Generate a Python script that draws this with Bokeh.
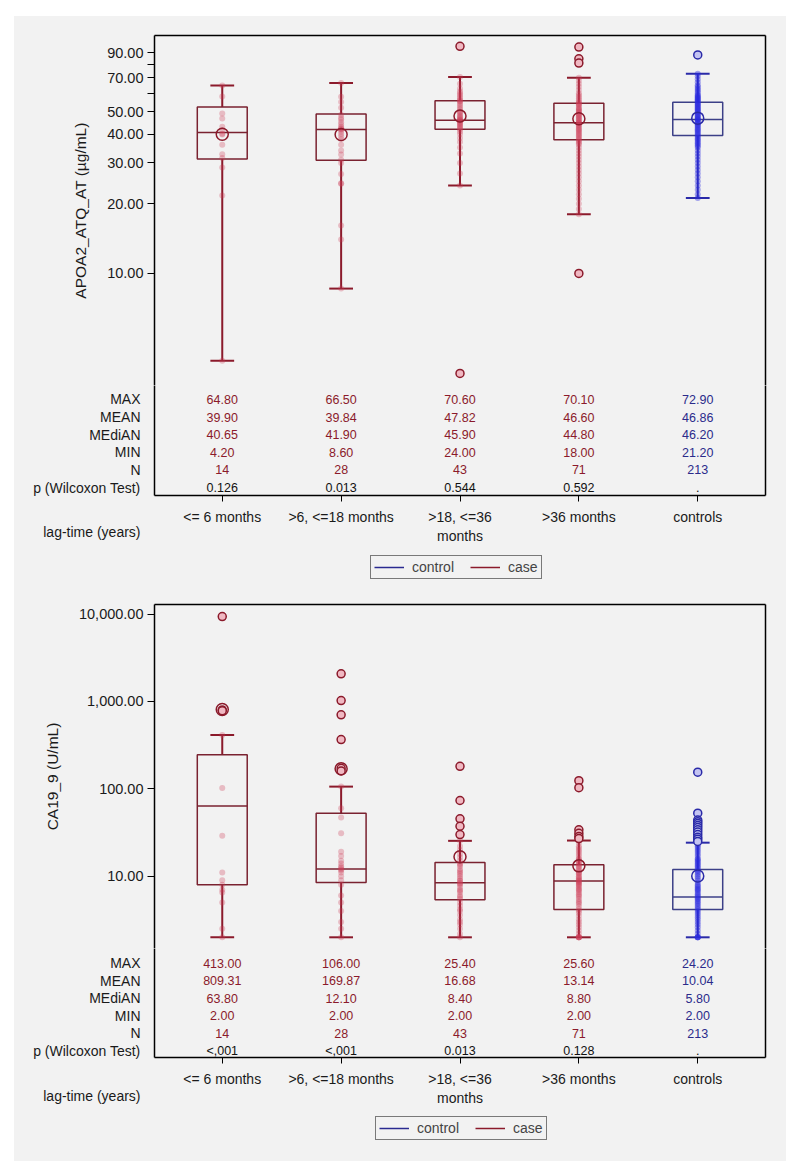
from bokeh.plotting import figure
from bokeh.models import (Range1d, FixedTicker, Legend, LegendItem, LinearAxis,
                          ColumnDataSource, Title)
from bokeh.core.properties import value
from bokeh.layouts import column
from bokeh.embed import file_html
from bokeh.resources import INLINE

# ---------------- data ----------------
categories = ["<= 6 months", ">6, <=18 months", ">18, <=36\nmonths", ">36 months", "controls"]
group_type = ["case", "case", "case", "case", "control"]
stat_names = ["MAX", "MEAN", "MEdiAN", "MIN", "N", "p (Wilcoxon Test)"]
x_title = "lag-time (years)"
legend_labels = ["control", "case"]

# Panel 1: APOA2_ATQ_AT
apoa2_q1 = [31.2, 30.8, 42.0, 37.8, 39.4]
apoa2_median = [40.65, 41.90, 45.90, 44.80, 46.20]
apoa2_q3 = [52.3, 48.8, 55.7, 54.3, 54.9]
apoa2_low = [4.20, 8.60, 24.00, 18.00, 21.20]
apoa2_high = [64.80, 66.50, 70.60, 70.10, 72.90]
apoa2_mean = [39.90, 39.84, 47.82, 46.60, 46.86]
apoa2_outliers = [[], [], [95.7, 3.7], [95.0, 84.5, 81.0, 10.0], [87.9]]
apoa2_points = [
    [64.8, 58.1, 49.1, 46.7, 43.0, 41.5, 40.1, 39.8, 36.0, 32.7, 31.5, 28.7, 21.7, 4.2],
    [66.5, 58.0, 55.0, 52.0, 48.5, 47.0, 46.2, 45.0, 44.0, 43.0, 42.5, 42.0, 41.8, 41.0,
     40.0, 39.0, 38.0, 36.0, 34.0, 32.6, 31.0, 30.0, 26.9, 24.5, 24.4, 16.1, 14.0, 8.6],
    [70.6, 66, 63, 61, 60, 59, 58, 57, 56, 55.5, 55, 54, 53, 52, 51, 50, 49.5, 49, 48,
     47.5, 47, 46.5, 46, 45.9, 45.5, 45, 44.5, 44, 43.5, 43, 42.5, 42, 41, 40, 38.5, 37,
     35, 33, 30, 27, 24],
    [70.1, 68, 66, 64, 62, 60, 59, 58, 57, 56, 55, 54.5, 54, 53.5, 53, 52, 51.5, 51, 50.5,
     50, 49.5, 49, 48.5, 48, 47.5, 47, 46.5, 46, 45.5, 45, 44.8, 44.5, 44, 43.5, 43, 42.5,
     42, 41.5, 41, 40.5, 40, 39.5, 39, 38.5, 38, 37.5, 37, 36.5, 36, 35, 34, 33, 32, 31,
     30, 29, 28, 27, 26, 25, 24, 23, 22, 21, 20, 19, 18],
    [72.9, 71, 69, 67, 65, 64, 63, 62, 61, 60, 59, 58.5, 58, 57.5, 57, 56.5, 56, 55.5, 55,
     54.5, 54, 53.5, 53, 52.5, 52, 51.5, 51, 50.5, 50, 49.5, 49, 48.5, 48, 47.5, 47, 46.5,
     46.2, 46, 45.5, 45, 44.5, 44, 43.5, 43, 42.5, 42, 41.5, 41, 40.5, 40, 39.5, 39, 38.5,
     38, 37.5, 37, 36.5, 36, 35.5, 35, 34, 33, 32, 31, 30, 29, 28, 27, 26, 25, 24, 23, 22,
     21.2],
]
apoa2_table = [
    ["64.80", "66.50", "70.60", "70.10", "72.90"],
    ["39.90", "39.84", "47.82", "46.60", "46.86"],
    ["40.65", "41.90", "45.90", "44.80", "46.20"],
    ["4.20", "8.60", "24.00", "18.00", "21.20"],
    ["14", "28", "43", "71", "213"],
    ["0.126", "0.013", "0.544", "0.592", "."],
]
apoa2_ticks = [10, 20, 30, 40, 50, 60, 70, 80, 90]
apoa2_tick_labels = ["10.00", "20.00", "30.00", "40.00", "50.00", "", "70.00", "", "90.00"]
apoa2_title = "APOA2_ATQ_AT (\u00b5g/mL)"

# Panel 2: CA19_9
ca199_q1 = [8.0, 8.5, 5.37, 4.16, 4.16]
ca199_median = [63.80, 12.10, 8.40, 8.80, 5.80]
ca199_q3 = [245.0, 52.6, 14.4, 13.5, 11.9]
ca199_low = [2.00, 2.00, 2.00, 2.00, 2.00]
ca199_high = [413.00, 106.00, 25.40, 25.60, 24.20]
ca199_mean = [809.31, 169.87, 16.68, 13.14, 10.04]
ca199_outliers = [
    [9350, 800, 780],
    [2070, 1023, 703, 366, 172, 160],
    [181, 73.5, 45.4, 37.3, 30],
    [124, 103, 34, 31, 28.5, 27],
    [155, 52.6, 44, 42, 40, 38, 36, 34, 32, 30, 28, 26.5, 25],
]
ca199_points = [
    [413, 102, 29, 11, 9, 8, 7, 6.5, 5, 2.5, 2.0],
    [106, 60, 47, 31, 19, 17, 15, 14, 13, 12.5, 12, 11.7, 11, 10, 9, 8, 6, 5, 4, 3, 2.5, 2],
    [25.4, 22, 20, 18, 16.5, 15, 14, 13.5, 13, 12, 11.5, 11, 10.5, 10, 9.5, 9, 8.8, 8.4,
     8.2, 8, 7.5, 7, 6.8, 6.5, 6, 5.8, 5.5, 5, 4.6, 4.2, 4, 3.6, 3.2, 3, 2.8, 2.5, 2.2, 2],
    [25.6, 24, 22, 21, 20, 19, 18, 17, 16, 15.5, 15, 14.5, 14, 13.5, 13, 12.5, 12, 11.5,
     11, 10.8, 10.5, 10, 9.8, 9.5, 9.2, 9, 8.8, 8.6, 8.4, 8.2, 8, 7.8, 7.5, 7.2, 7, 6.8,
     6.5, 6.2, 6, 5.8, 5.5, 5.2, 5, 4.8, 4.5, 4.2, 4, 3.8, 3.5, 3.2, 3, 2.8, 2.6, 2.4,
     2.2, 2, 2, 2, 2, 2],
    [24.2, 23, 22, 21, 20, 19, 18, 17, 16, 15.5, 15, 14.5, 14, 13.5, 13, 12.5, 12, 11.5,
     11, 10.5, 10, 9.5, 9, 8.5, 8, 7.8, 7.5, 7.2, 7, 6.8, 6.5, 6.2, 6, 5.8, 5.6, 5.4, 5.2,
     5, 4.8, 4.6, 4.4, 4.2, 4, 3.8, 3.6, 3.4, 3.2, 3, 2.8, 2.6, 2.4, 2.2, 2, 2, 2, 2],
]
ca199_table = [
    ["413.00", "106.00", "25.40", "25.60", "24.20"],
    ["809.31", "169.87", "16.68", "13.14", "10.04"],
    ["63.80", "12.10", "8.40", "8.80", "5.80"],
    ["2.00", "2.00", "2.00", "2.00", "2.00"],
    ["14", "28", "43", "71", "213"],
    ["<,001", "<,001", "0.013", "0.128", "."],
]
ca199_ticks = [10, 100, 1000, 10000]
ca199_tick_labels = ["10.00", "100.00", "1,000.00", "10,000.00"]
ca199_title = "CA19_9 (U/mL)"

# ---------------- styles ----------------
BG = "#f2f2f2"
FONT = "Liberation Sans"
INK = "#1a1a1a"
LINE = {"case": "#8b1a2b", "control": "#2a2aa8"}
BOX = {"case": "#7a2230", "control": "#3c4088"}
PT = {"case": "#cc3a55", "control": "#2a2ae0"}
OUT_FILL = {"case": "#f0b8c2", "control": "#c4c4f2"}
TXT = {"case": "#8b1a2b", "control": "#2b2b8b"}
LEG = {"control": "#2a2a90", "case": "#8b1a2b"}
W = 772
LEFT = 140
RIGHT = 21


def base(height, x_range, y_range, top=0, bottom=0, **kw):
    p = figure(width=W, height=height, x_range=x_range, y_range=y_range,
               output_backend="svg", toolbar_location=None,
               min_border_left=LEFT, min_border_right=RIGHT,
               min_border_top=top, min_border_bottom=bottom,
               background_fill_color=BG, border_fill_color=BG, outline_line_color=None, **kw)
    p.grid.visible = False
    return p


def edge_axis(p, side):
    ax = LinearAxis(ticker=FixedTicker(ticks=[]), major_tick_out=0, major_tick_in=0,
                    minor_tick_out=0, minor_tick_in=0, major_label_standoff=0,
                    axis_line_color="black", axis_line_width=1.5)
    p.add_layout(ax, side)


def plot_part(xr, q1, med, q3, lo, hi, mean, outliers, points, ticks, tick_labels,
              ytitle, y_range, height, top):
    p = base(height, xr, Range1d(*y_range), top=top, y_axis_type="log",
             x_axis_location=None)
    xs = [i + 1 for i in range(len(categories))]

    ya = p.yaxis[0]
    ya.ticker = FixedTicker(ticks=ticks)
    ya.major_label_overrides = {t: l for t, l in zip(ticks, tick_labels)}
    ya.minor_tick_line_color = None
    ya.major_tick_in = 0
    ya.major_tick_out = 7
    ya.axis_line_width = 1.5
    ya.major_label_standoff = 4
    ya.major_label_text_font = FONT
    ya.major_label_text_font_size = "14.5px"
    ya.major_label_text_color = INK
    ya.axis_label = ytitle
    ya.axis_label_standoff = 15
    ya.axis_label_text_font = FONT
    ya.axis_label_text_font_size = "15.5px"
    ya.axis_label_text_font_style = "normal"
    ya.axis_label_text_color = INK
    edge_axis(p, "above")
    edge_axis(p, "right")

    for g in ("case", "control"):
        idx = [i for i, t in enumerate(group_type) if t == g]
        src = ColumnDataSource(dict(
            x=[xs[i] for i in idx], q1=[q1[i] for i in idx], med=[med[i] for i in idx],
            q3=[q3[i] for i in idx], lo=[lo[i] for i in idx], hi=[hi[i] for i in idx],
            xl=[xs[i] - 0.1 for i in idx], xr=[xs[i] + 0.1 for i in idx],
            bl=[xs[i] - 0.21 for i in idx], br=[xs[i] + 0.21 for i in idx]))
        p.segment(x0="x", x1="x", y0="q3", y1="hi", source=src, line_color=LINE[g], line_width=2)
        p.segment(x0="x", x1="x", y0="lo", y1="q1", source=src, line_color=LINE[g], line_width=2)
        p.segment(x0="xl", x1="xr", y0="hi", y1="hi", source=src, line_color=LINE[g], line_width=2)
        p.segment(x0="xl", x1="xr", y0="lo", y1="lo", source=src, line_color=LINE[g], line_width=2)
        p.vbar(x="x", width=0.42, bottom="q1", top="q3", source=src,
               fill_color=None, line_color=BOX[g], line_width=1.5)
        p.segment(x0="bl", x1="br", y0="med", y1="med", source=src,
                  line_color=BOX[g], line_width=1.5)

        px, py = [], []
        for i in idx:
            px += [xs[i]] * len(points[i])
            py += points[i]
        p.scatter(px, py, size=6, fill_color=PT[g],
                  fill_alpha=0.3 if g == "case" else 0.4, line_color=None)
        ox, oy = [], []
        for i in idx:
            ox += [xs[i]] * len(outliers[i])
            oy += outliers[i]
        p.scatter(ox, oy, size=8, fill_color=OUT_FILL[g], line_color=LINE[g], line_width=1.5)
        p.scatter([xs[i] for i in idx], [mean[i] for i in idx], size=12,
                  fill_color=None, line_color=LINE[g], line_width=1.5)
    return p


def table_part(xr, table, y_range, height, bottom, title_standoff):
    p = base(height, xr, Range1d(*y_range), bottom=bottom)
    xs = [i + 1 for i in range(len(categories))]
    rows = [len(stat_names) - 1 - r for r in range(len(stat_names))]

    ya = p.yaxis[0]
    ya.ticker = FixedTicker(ticks=rows)
    ya.major_label_overrides = {y: n for y, n in zip(rows, stat_names)}
    ya.minor_tick_line_color = None
    ya.major_tick_in = 0
    ya.major_tick_out = 0
    ya.major_label_standoff = 14
    ya.axis_line_width = 1.5
    ya.major_label_text_font = FONT
    ya.major_label_text_font_size = "14px"
    ya.major_label_text_color = INK

    xa = p.xaxis[0]
    xa.ticker = FixedTicker(ticks=xs)
    xa.major_label_overrides = {x: c for x, c in zip(xs, categories)}
    xa.minor_tick_line_color = None
    xa.major_tick_in = 0
    xa.major_tick_out = 6
    xa.axis_line_width = 1.5
    xa.major_label_standoff = 7
    xa.major_label_text_font = FONT
    xa.major_label_text_font_size = "14px"
    xa.major_label_text_color = INK
    edge_axis(p, "right")

    tx, ty, tt, tc = [], [], [], []
    for r, vals in enumerate(table):
        for i, v in enumerate(vals):
            tx.append(xs[i])
            ty.append(rows[r])
            tt.append(v)
            tc.append("#111111" if stat_names[r].startswith("p ") else TXT[group_type[i]])
    p.text(x=tx, y=ty, text=tt, text_color=tc, text_align="center", text_baseline="middle",
           text_font=value(FONT), text_font_size=value("12.5px"))

    p.add_layout(Title(text=x_title, align="right", offset=W - LEFT - RIGHT + 14,
                       vertical_align="top", standoff=title_standoff,
                       text_font=FONT, text_font_size="14px",
                       text_font_style="normal", text_color=INK), "below")
    return p


def legend_part(height, loc):
    p = base(height, Range1d(0, 1), Range1d(0, 1), x_axis_location=None,
             y_axis_location=None)
    r_ctrl = p.line([0, 0], [0, 0], line_color=LEG["control"], line_width=1.5)
    r_case = p.line([0, 0], [0, 0], line_color=LEG["case"], line_width=1.5)
    legend = Legend(items=[LegendItem(label=legend_labels[0], renderers=[r_ctrl]),
                           LegendItem(label=legend_labels[1], renderers=[r_case])],
                    location=loc, orientation="horizontal",
                    border_line_color="black", border_line_width=1.5,
                    background_fill_color=BG, background_fill_alpha=1.0,
                    label_text_font=FONT, label_text_font_size="14px",
                    glyph_width=30, glyph_height=12, label_height=12,
                    padding=3, spacing=16, label_standoff=8, margin=0)
    p.add_layout(legend, "center")
    return p


xr1 = Range1d(0.43, 5.57)
a1 = plot_part(xr1, apoa2_q1, apoa2_median, apoa2_q3, apoa2_low, apoa2_high, apoa2_mean,
               apoa2_outliers, apoa2_points, apoa2_ticks, apoa2_tick_labels, apoa2_title,
               (3.28, 106.6), 369, 19)
b1 = table_part(xr1, apoa2_table, (-0.4545, 5.795), 166, 56, -45)
c1 = legend_part(49, (216, 21))

xr2 = Range1d(0.43, 5.57)
a2 = plot_part(xr2, ca199_q1, ca199_median, ca199_q3, ca199_low, ca199_high, ca199_mean,
               ca199_outliers, ca199_points, ca199_ticks, ca199_tick_labels, ca199_title,
               (1.489, 12860), 348, 4)
b2 = table_part(xr2, ca199_table, (-0.402, 5.862), 165, 56, -41)
c2 = legend_part(48, (221, 21))

layout = column(a1, b1, c1, a2, b2, c2, margin=(16, 0, 0, 14),
                styles={"background-color": BG})
open("out.html", "w").write(file_html(layout, INLINE))
